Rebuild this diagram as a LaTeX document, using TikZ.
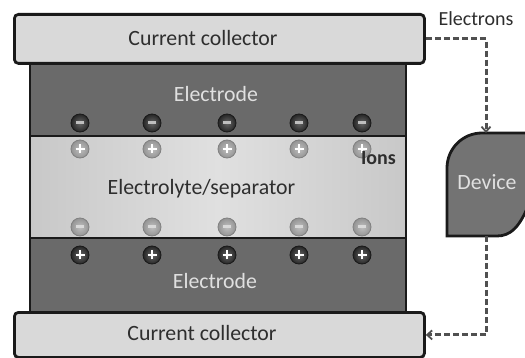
\documentclass[tikz,border=0pt]{standalone}
\usepackage{fontspec}
\setmainfont{Carlito}
\usetikzlibrary{arrows.meta}
\definecolor{ccfill}{HTML}{D9D9D9}
\definecolor{elfill}{HTML}{6A6A6A}
\definecolor{lyfill}{HTML}{C8C8C8}
\definecolor{lylight}{HTML}{E0E0E0}
\definecolor{devfill}{HTML}{737373}
\definecolor{txtdark}{HTML}{2E2E2E}
\definecolor{txtlight}{HTML}{E0E0E0}
\definecolor{edge}{HTML}{1A1A1A}
\definecolor{flowc}{HTML}{505050}
\begin{document}
\begin{tikzpicture}[x=1pt,y=-1pt,
  layer/.style={draw=edge,line width=2.8pt},
  lbl/.style={anchor=base,inner sep=0pt,font=\fontsize{21.8}{24}\selectfont},
  ion/.style={circle,inner sep=0pt,minimum size=18pt,line width=0.8pt},
  darkion/.style={ion,draw=black!90,inner color=black!60,outer color=black!85},
  lightion/.style={ion,draw=black!50,inner color=black!25,outer color=black!42},
  minus/.style={path picture={\draw[#1,line width=3pt]
      ([xshift=-4pt]path picture bounding box.center) -- ([xshift=4pt]path picture bounding box.center);}},
  plus/.style={path picture={\draw[#1,line width=2.8pt]
      ([xshift=-4.5pt]path picture bounding box.center) -- ([xshift=4.5pt]path picture bounding box.center)
      ([yshift=-4.5pt]path picture bounding box.center) -- ([yshift=4.5pt]path picture bounding box.center);}},
  flow/.style={draw=flowc,line width=3pt,dash pattern=on 6pt off 3pt,-{Straight Barb[length=5pt,width=9pt,line width=1.8pt]}}]
\useasboundingbox (0,0) rectangle (525,358);
% electrodes and electrolyte
\fill[elfill] (30,62) rectangle (406,136);
\shade[left color=lyfill,right color=lyfill,middle color=lylight] (30,136) rectangle (406,238);
\fill[elfill] (30,238) rectangle (406,311);
\draw[layer] (30,62) -- (30,311) (406,62) -- (406,311);
\draw[layer] (30,136) -- (406,136) (30,238) -- (406,238);
% collectors
\node[layer,fill=ccfill,rounded corners=4pt,minimum width=410pt,minimum height=49pt,inner sep=0pt,anchor=north west] (topcc) at (13,13) {};
\node[layer,fill=ccfill,rounded corners=4pt,minimum width=410pt,minimum height=45pt,inner sep=0pt,anchor=north west] (botcc) at (13,311) {};
% labels
\node[lbl,text=txtdark] (topcclbl) at (203,45.5) {Current collector};
\node[lbl,text=txtdark] (botcclbl) at (202,340) {Current collector};
\node[lbl,text=txtlight] (eltop) at (216,102) {Electrode};
\node[lbl,text=txtlight] (elbot) at (215,288) {Electrode};
\node[lbl,text=txtdark] (lyte) at (201.5,195) {Electrolyte/separator};
% ions
\foreach \i/\x in {1/80,2/152,3/227,4/299,5/362}{
  \node[darkion,minus=black!25] (tm\i) at (\x,123) {};
  \node[lightion,plus=white] (tp\i) at (\x,149) {};
  \node[lightion,minus=black!15] (bm\i) at (\x,227) {};
  \node[darkion,plus=white] (bp\i) at (\x,255) {};
}
\node[lbl,text=txtdark,font=\bfseries\fontsize{20}{22}\selectfont] (ions) at (378.5,165) {Ions};
% device
\begin{scope}
\clip (0,0) rectangle (525,358);
\draw[layer,fill=devfill] (447,236) -- (447,168) arc[start angle=180,end angle=270,radius=35] -- (530,133) -- (530,200) -- (530,201) .. controls (520,228) and (510,236) .. (497,236) -- cycle;
\end{scope}
\coordinate (devtop) at (486,133);
\coordinate (devbot) at (486,236);
\node[lbl,text=txtlight] (dev) at (487,190) {Device};
\node[lbl,text=txtdark,font=\fontsize{20}{22}\selectfont] (electrons) at (476,26) {Electrons};
% electron flow
\draw[flow] (topcc.east) -| (devtop);
\draw[flow] (devbot) |- (botcc.east);
\end{tikzpicture}
\end{document}
